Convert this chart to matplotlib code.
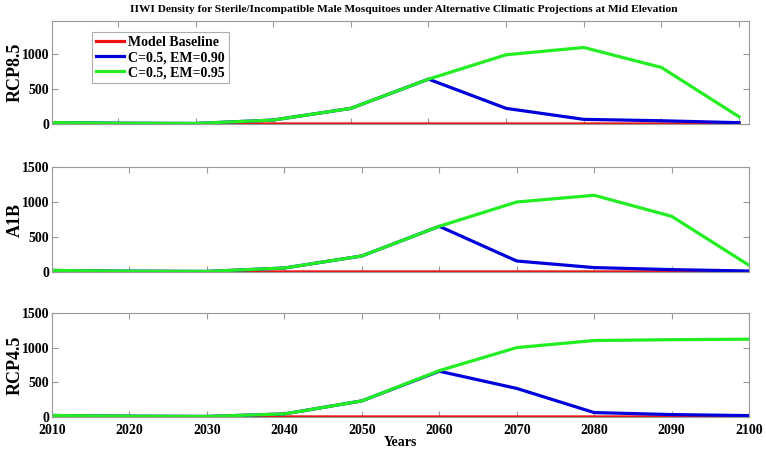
import numpy as np
import matplotlib
matplotlib.use('Agg')
import matplotlib.pyplot as plt

# ===========================
# Data
years = [2010, 2020, 2030, 2040, 2050, 2060, 2070, 2080, 2090, 2100]

baseline_rcp85 = [2, 1, 1, 1, 1, 1, 1, 1, 1, 1]
em90_rcp85 = [22, 12, 8, 57, 225, 645, 225, 67, 47, 19]
em95_rcp85 = [22, 12, 8, 57, 225, 645, 995, 1100, 813, 105]

baseline_a1b = [2, 1, 1, 1, 1, 1, 1, 1, 1, 1]
em90_a1b = [22, 12, 8, 57, 229, 653, 157, 63, 34, 14]
em95_a1b = [22, 12, 8, 57, 229, 653, 1000, 1096, 796, 96]

baseline_rcp45 = [2, 1, 1, 1, 1, 1, 1, 1, 1, 1]
em90_rcp45 = [22, 12, 8, 44, 232, 660, 412, 64, 35, 20]
em95_rcp45 = [22, 12, 8, 44, 232, 668, 1001, 1103, 1115, 1122]

panel_names = ['RCP8.5', 'A1B', 'RCP4.5']
legend_labels = ['Model Baseline', 'C=0.5, EM=0.90', 'C=0.5, EM=0.95']
x_ticks = [2010, 2020, 2030, 2040, 2050, 2060, 2070, 2080, 2090, 2100]

# ===========================
# Style
plt.rcParams['font.family'] = ['Liberation Serif', 'DejaVu Serif']
plt.rcParams['font.weight'] = 'bold'
spine_col = '#999999'
col_red = '#ee1111'
col_blue = '#0000dd'
col_green = '#22ee22'
lw = 2.3

fig = plt.figure(figsize=(7.66, 4.51), dpi=100)

# axes positions in figure coords
rects = [
    [0.0679, 0.725, 0.910, 0.2284],
    [0.0679, 0.3969, 0.910, 0.2328],
    [0.0679, 0.0754, 0.910, 0.2306],
]
data = [
    (baseline_rcp85, em90_rcp85, em95_rcp85),
    (baseline_a1b, em90_a1b, em95_a1b),
    (baseline_rcp45, em90_rcp45, em95_rcp45),
]

axes = []
for i in range(3):
    ax = fig.add_axes(rects[i])
    base, em90, em95 = data[i]
    ax.plot(years, base, color=col_red, lw=lw, label=legend_labels[0])
    ax.plot(years, em90, color=col_blue, lw=lw, label=legend_labels[1])
    ax.plot(years, em95, color=col_green, lw=lw, label=legend_labels[2])

    ax.set_xticks(x_ticks)
    if i == 0:
        ax.set_xlim(2011.5, 2101.3)
        ax.set_ylim(0, 1480)
        ax.set_yticks([0, 500, 1000])
    else:
        ax.set_xlim(2010, 2100)
        ax.set_ylim(0, 1500)
        ax.set_yticks([0, 500, 1000, 1500])

    if i < 2:
        ax.set_xticklabels([])
    else:
        ax.set_xlabel('Years', fontsize=10, fontweight='bold', labelpad=-1)

    ax.set_ylabel(panel_names[i], fontsize=13, fontweight='bold', va='center')
    ax.yaxis.set_label_coords(-0.053, 0.5)
    ax.tick_params(direction='in', top=True, right=True, length=4,
                   color=spine_col, labelsize=10, pad=2)
    ax.tick_params(axis='x', pad=5)
    for s in ax.spines.values():
        s.set_color(spine_col)
        s.set_linewidth(0.8)
    axes.append(ax)

# legend in top panel
leg = axes[0].legend(loc='upper left', bbox_to_anchor=(0.057, 0.895),
                     fontsize=10, frameon=True, fancybox=False,
                     handlelength=2.0, handletextpad=0.3, borderpad=0.3,
                     labelspacing=0.15, borderaxespad=0)
leg.get_frame().set_edgecolor(spine_col)
leg.get_frame().set_linewidth(0.8)
for t in leg.get_texts():
    t.set_fontweight('bold')

fig.suptitle('IIWI Density for Sterile/Incompatible Male Mosquitoes under Alternative Climatic Projections at Mid Elevation',
             fontsize=8.2, fontweight='bold', x=0.527, y=0.988)

fig.savefig('out.png', dpi=100)
